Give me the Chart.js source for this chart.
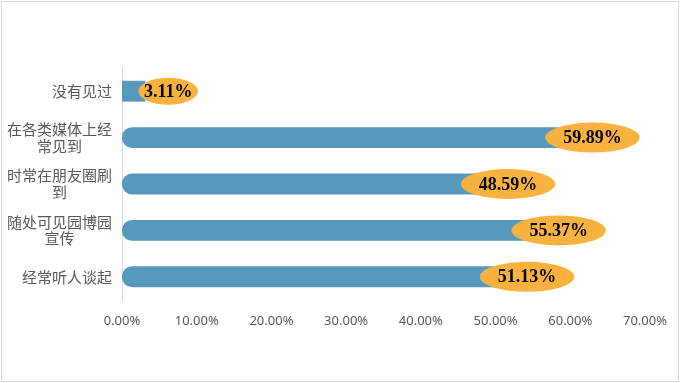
<!DOCTYPE html>
<html>
<head>
<meta charset="utf-8">
<script src="https://cdn.jsdelivr.net/npm/chart.js@4/dist/chart.umd.min.js"></script>
<style>
  html, body { margin: 0; padding: 0; background: #fff; }
  #wrap { position: relative; width: 680px; height: 383px; }
  #frame { position: absolute; left: 1px; top: 1px; width: 676px; height: 379px; border: 1px solid #d9d9d9; pointer-events: none; }
  canvas { position: absolute; left: 0; top: 0; }
</style>
</head>
<body>
<div id="wrap">
  <canvas id="c" width="680" height="383"></canvas>
  <div id="frame"></div>
</div>
<script>
const categories = [
  ['没有见过'],
  ['在各类媒体上经', '常见到'],
  ['时常在朋友圈刷', '到'],
  ['随处可见园博园', '宣传'],
  ['经常听人谈起']
];
const values = [3.11, 59.89, 48.59, 55.37, 51.13];
const axisMin = 0;
const axisMax = 70;
const axisStep = 10;

const BAR_COLOR = '#5699BC';
const CALLOUT_COLOR = '#F9B23F';

function centerLines(lines) {
  const maxLen = Math.max(...lines.map(l => l.length));
  return lines.map(l => {
    const d = (maxLen - l.length) / 2;
    let pad = '\u3000'.repeat(Math.floor(d));
    if (d % 1) pad += '\u2002';
    return l + pad;
  });
}

const calloutPlugin = {
  id: 'callouts',
  afterDatasetsDraw(chart) {
    const ctx = chart.ctx;
    const meta = chart.getDatasetMeta(0);
    const ds = chart.data.datasets[0];
    ctx.save();
    ctx.font = 'bold 18px "Liberation Serif", "Times New Roman", serif';
    meta.data.forEach((bar, i) => {
      const txt = ds.data[i].toFixed(2) + '%';
      const tw = ctx.measureText(txt).width;
      const cx = bar.x + 23;
      const cy = bar.y;
      const short = ds.data[i] < 10;
      const rx = short ? (tw + 11) / 2 : (tw + 36) / 2;
      const ry = short ? 13.5 : 15;
      ctx.beginPath();
      ctx.ellipse(cx, cy, rx, ry, 0, 0, Math.PI * 2);
      ctx.fillStyle = CALLOUT_COLOR;
      ctx.fill();
      ctx.fillStyle = '#000';
      ctx.textAlign = 'center';
      ctx.textBaseline = 'middle';
      ctx.fillText(txt, cx, cy + 1);
    });
    ctx.restore();
  }
};

new Chart(document.getElementById('c'), {
  type: 'bar',
  data: {
    labels: categories,
    datasets: [{
      data: values,
      backgroundColor: BAR_COLOR,
      borderSkipped: false,
      borderRadius: (c) => (c.raw > 10 ? { topLeft: 10, bottomLeft: 10, topRight: 0, bottomRight: 0 } : 0),
      barPercentage: 0.45,
      categoryPercentage: 1.0
    }]
  },
  options: {
    indexAxis: 'y',
    responsive: false,
    animation: false,
    devicePixelRatio: 1,
    layout: { padding: { top: 68, right: 27, bottom: 0, left: 0 } },
    plugins: {
      legend: { display: false },
      tooltip: { enabled: false },
      title: { display: false }
    },
    scales: {
      x: {
        min: axisMin,
        max: axisMax,
        grid: { display: false, drawTicks: false },
        border: { display: false },
        ticks: {
          stepSize: axisStep,
          padding: 13,
          color: '#595959',
          font: { family: '"Noto Sans", "DejaVu Sans", sans-serif', size: 13 },
          maxRotation: 0,
          callback: (v) => Number(v).toFixed(2) + '%'
        },
        afterFit: (s) => { s.height = 83; }
      },
      y: {
        grid: { display: false, drawTicks: false },
        border: { display: true, color: '#d9d9d9', width: 1 },
        ticks: {
          padding: 10,
          color: '#595959',
          font: { family: '"Noto Sans CJK SC", sans-serif', size: 15, lineHeight: 1.1 },
          callback: function (v, i) { return centerLines(categories[i]); }
        },
        afterFit: (s) => { s.width = 122; }
      }
    }
  },
  plugins: [calloutPlugin]
});
</script>
</body>
</html>
